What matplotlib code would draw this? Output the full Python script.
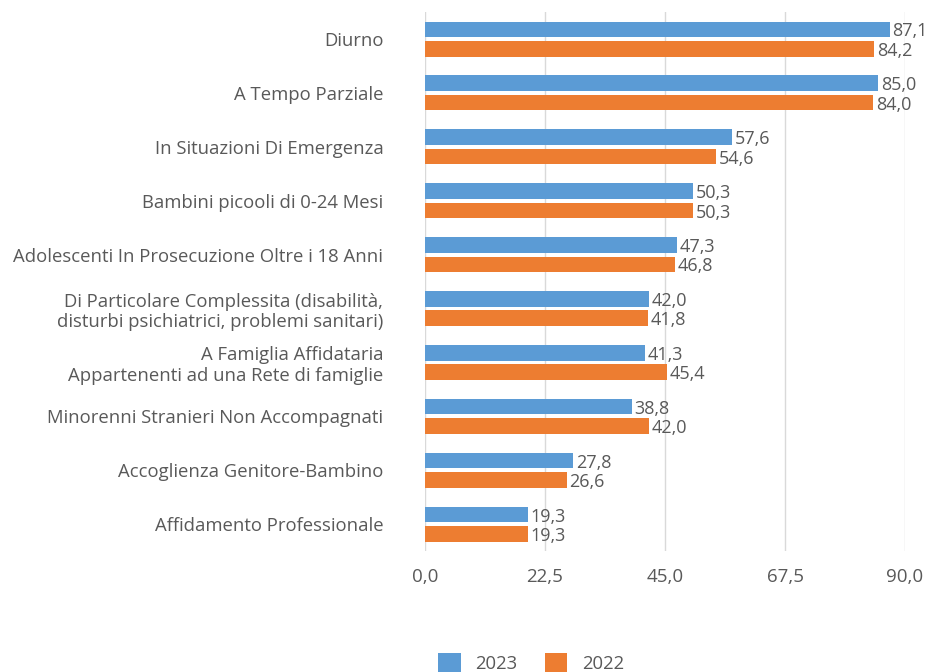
import matplotlib.pyplot as plt
import numpy as np

plt.rcParams['font.family'] = ['Open Sans', 'DejaVu Sans']

categories = [
    "Diurno",
    "A Tempo Parziale",
    "In Situazioni Di Emergenza",
    "Bambini picooli di 0-24 Mesi",
    "Adolescenti In Prosecuzione Oltre i 18 Anni",
    "Di Particolare Complessita (disabilità,\ndisturbi psichiatrici, problemi sanitari)",
    "A Famiglia Affidataria\nAppartenenti ad una Rete di famiglie",
    "Minorenni Stranieri Non Accompagnati",
    "Accoglienza Genitore-Bambino",
    "Affidamento Professionale",
]
v2023 = [87.1, 85.0, 57.6, 50.3, 47.3, 42.0, 41.3, 38.8, 27.8, 19.3]
v2022 = [84.2, 84.0, 54.6, 50.3, 46.8, 41.8, 45.4, 42.0, 26.6, 19.3]
xticks = [0, 22.5, 45, 67.5, 90]

blue = "#5B9BD5"
orange = "#ED7D31"
grey = "#595959"

fig = plt.figure(figsize=(9.29, 6.72), dpi=100)
ax = fig.add_axes([0.4575, 0.180, 0.9742 - 0.4575, 0.982 - 0.180])

y = np.arange(len(categories))
h = 0.29
off = 0.18
b1 = ax.barh(y - off, v2023, height=h, color=blue, label="2023", zorder=3)
b2 = ax.barh(y + off, v2022, height=h, color=orange, label="2022", zorder=3)

def fmt(v):
    return f"{v:.1f}".replace(".", ",")

for bars, vals in ((b1, v2023), (b2, v2022)):
    for r, v in zip(bars, vals):
        ax.text(v + 0.5, r.get_y() + r.get_height() / 2 + 0.04, fmt(v),
                va="center", ha="left", fontsize=13, color=grey, zorder=4)

ax.set_ylim(len(categories) - 0.5, -0.5)
ax.set_xlim(0, 90)
ax.set_yticks(y)
ax.set_yticklabels(categories, fontsize=13.3, color=grey, ha="right")
ax.set_xticks(xticks)
ax.set_xticklabels([fmt(t) for t in xticks], fontsize=13.5, color=grey)
ax.tick_params(axis="both", length=0)
ax.tick_params(axis="y", pad=30)
ax.tick_params(axis="x", pad=12)
ax.grid(axis="x", color="#D9D9D9", linewidth=1, zorder=0)
for s in ax.spines.values():
    s.set_visible(False)

leg = fig.legend(handles=[b1, b2], labels=["2023", "2022"], loc="center",
                 bbox_to_anchor=(0.572, 0.013), ncol=2, frameon=False,
                 fontsize=13.3, handlelength=1.2, handleheight=1.2,
                 columnspacing=1.5, handletextpad=0.8)
for t in leg.get_texts():
    t.set_color(grey)

fig.savefig("out.png", dpi=100)
